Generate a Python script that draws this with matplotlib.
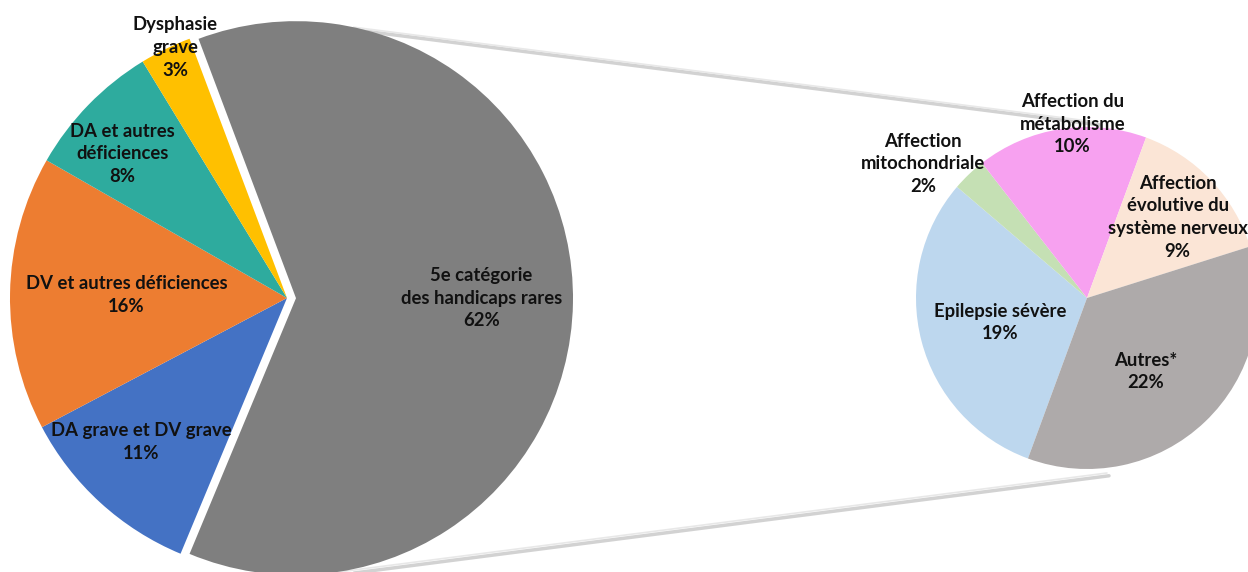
import numpy as np
import matplotlib
matplotlib.use("Agg")
import matplotlib.pyplot as plt
import matplotlib.patheffects as pe

# left pie: all rare handicaps
main_labels = ["5e catégorie\ndes handicaps rares", "DA grave et DV grave",
               "DV et autres déficiences", "DA et autres\ndéficiences",
               "Dysphasie\ngrave"]
main_values = [62, 11, 16, 8, 3]
main_colors = ["#7f7f7f", "#4472c4", "#ed7d31", "#2eab9e", "#ffc000"]

# right pie: detail of the 5th category
sub_labels = ["Epilepsie sévère", "Affection\nmitochondriale",
              "Affection du\nmétabolisme",
              "Affection\névolutive du\nsystème nerveux", "Autres*"]
sub_values = [19, 2, 10, 9, 22]
sub_colors = ["#bdd7ee", "#c5e0b4", "#f7a1f0", "#fbe5d6", "#aeaaaa"]

# label placement: (fraction of radius, angle tweak in degrees)
main_lab_pos = [(0.67, 1), (0.74, -3), (0.58, 0), (0.79, 3), (0.99, -2)]
sub_lab_pos = [(0.53, 1), (1.24, 7), (1.02, -4), (0.71, -2), (0.55, -5)]

W, H = 1248, 572
fig = plt.figure(figsize=(W / 100, H / 100), dpi=100)
ax = fig.add_axes([0, 0, 1, 1])

font = dict(family=["Lato", "DejaVu Sans"], fontweight="bold", fontsize=13.3,
            color="#111111", ha="center", va="center", linespacing=1.4)

c1, r1 = (287, 274), 277
c2, r2 = (1087, 274), 171

# explode is in data units here (pixels)
w1, _ = ax.pie(main_values, colors=main_colors, startangle=110.6,
               counterclock=False, center=c1, radius=r1,
               explode=[9, 0, 0, 0, 0],
               wedgeprops=dict(linewidth=0))
w2, _ = ax.pie(sub_values, colors=sub_colors, startangle=249.8,
               counterclock=False, center=c2, radius=r2,
               wedgeprops=dict(linewidth=0))

tot1 = sum(main_values)
for w, lab, v, (f, da) in zip(w1, main_labels, main_values, main_lab_pos):
    a = np.deg2rad((w.theta1 + w.theta2) / 2 + da)
    cx, cy = w.center
    ax.text(cx + f * r1 * np.cos(a), cy + f * r1 * np.sin(a),
            f"{lab}\n{round(100 * v / tot1)}%", **font)

for w, lab, v, (f, da) in zip(w2, sub_labels, sub_values, sub_lab_pos):
    a = np.deg2rad((w.theta1 + w.theta2) / 2 + da)
    cx, cy = w.center
    ax.text(cx + f * r2 * np.cos(a), cy + f * r2 * np.sin(a),
            f"{lab}\n{v}%", **font)

# connector lines from the exploded slice to the detail pie
gx, gy = w1[0].center
shadow = [pe.SimpleLineShadow(offset=(1.5, -2), shadow_color="#808080",
                              alpha=0.35, linewidth=2.5), pe.Normal()]
for a1, a2 in [(78, 86.4), (-83, -83.5)]:
    p1 = (gx + r1 * np.cos(np.deg2rad(a1)), gy + r1 * np.sin(np.deg2rad(a1)))
    p2 = (c2[0] + 1.03 * r2 * np.cos(np.deg2rad(a2)),
          c2[1] + 1.03 * r2 * np.sin(np.deg2rad(a2)))
    ax.plot([p1[0], p2[0]], [p1[1], p2[1]], color="#e8e8e8", lw=1.2,
            path_effects=shadow, solid_capstyle="round", zorder=0)

ax.set_xlim(0, W)
ax.set_ylim(0, H)
ax.set_aspect("equal")
ax.axis("off")
fig.savefig("out.png", dpi=100, facecolor="white")
